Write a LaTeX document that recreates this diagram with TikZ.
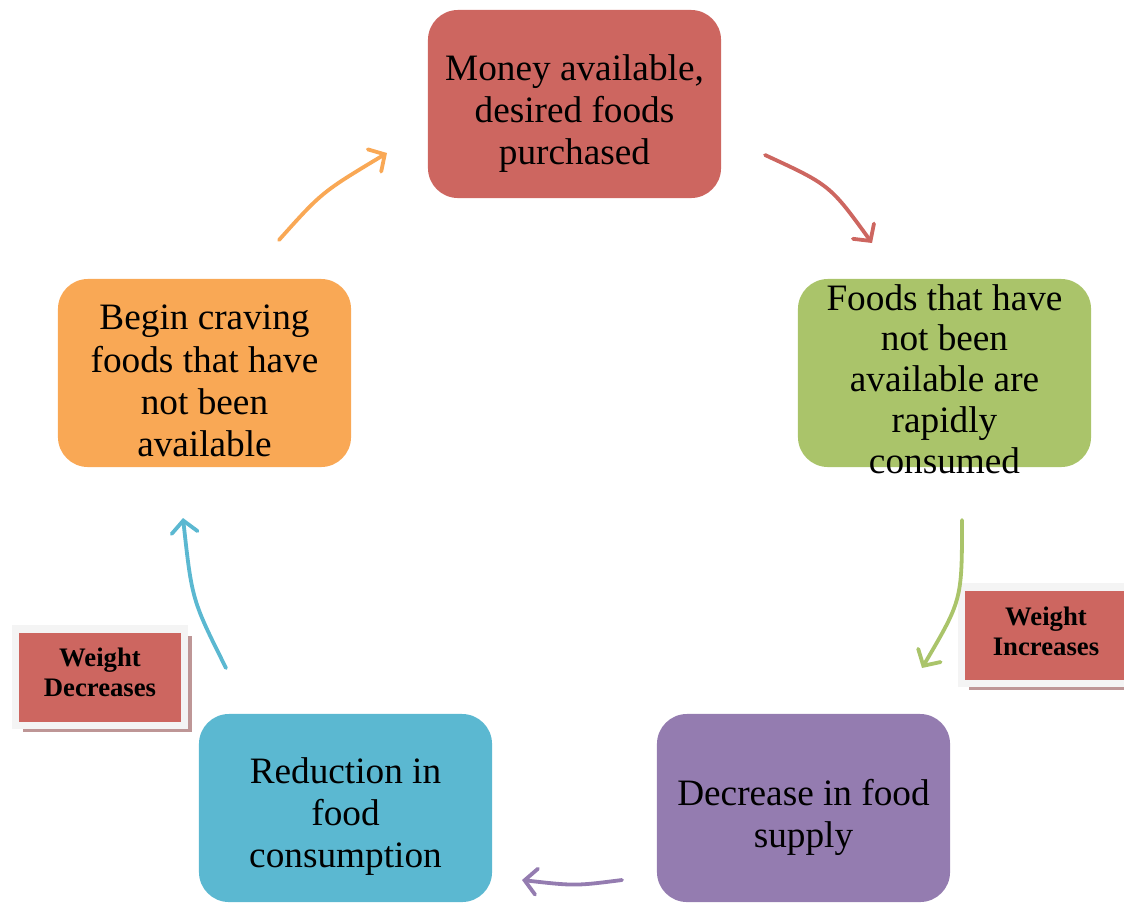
\documentclass[tikz,border=0pt]{standalone}
\usepackage{fontspec}
\setmainfont{Liberation Serif}
\usetikzlibrary{arrows.meta,shadows}
\definecolor{moneyred}{RGB}{205,102,96}
\definecolor{foodgreen}{RGB}{170,196,106}
\definecolor{supplyviolet}{RGB}{148,124,176}
\definecolor{reductblue}{RGB}{91,184,209}
\definecolor{craveorange}{RGB}{249,168,85}
\definecolor{framegray}{RGB}{244,244,244}
\definecolor{shadowred}{RGB}{190,150,150}
\begin{document}
\begin{tikzpicture}[x=0.025cm,y=-0.025cm,
    stage/.style={rounded corners=0.75cm, minimum width=7.325cm, minimum height=4.7cm},
    words/.style={align=center, font=\fontsize{26.5}{30}\selectfont},
    tag/.style={fill=moneyred, draw=framegray, line width=0.175cm,
        minimum width=4.225cm, minimum height=2.4cm,
        drop shadow={shadow xshift=0.18cm, shadow yshift=-0.18cm, fill=shadowred, opacity=1}},
    tagwords/.style={align=center, font=\bfseries\fontsize{19}{21.3}\selectfont},
    flow/.style={line width=0.095cm, line cap=round,
        -{Straight Barb[length=0.3cm,width=0.65cm,line cap=round]}}]
    \useasboundingbox (0,0) rectangle (1124,903);
    \clip (0,0) rectangle (1124,903);
    % the five stages of the cycle
    \node[stage, fill=moneyred] (money) at (574.5,104) {};
    \node[stage, fill=foodgreen] (foods) at (944.5,373) {};
    \node[stage, fill=supplyviolet] (supply) at (803.5,808) {};
    \node[stage, fill=reductblue] (reduct) at (345.5,808) {};
    \node[stage, fill=craveorange] (crave) at (204.5,373) {};
    \node[words] (moneytext) at ([yshift=-0.24cm]money.center) {Money available,\\desired foods\\purchased};
    \node[words, font=\fontsize{26.5}{29}\selectfont] (foodstext) at ([yshift=-0.15cm]foods.center)
        {Foods that have\\not been\\available are\\rapidly\\consumed};
    \node[words] (supplytext) at ([yshift=-0.24cm]supply.center) {Decrease in food\\supply};
    \node[words] (reducttext) at ([yshift=-0.22cm]reduct.center) {Reduction in\\food\\consumption};
    \node[words] (cravetext) at ([yshift=-0.2cm]crave.center) {Begin craving\\foods that have\\not been\\available};
    % weight labels
    \node[tag] (incr) at (1046,635) {};
    \node[tag] (decr) at (100,677) {};
    \node[tagwords] (incrtext) at ([yshift=0.08cm]incr.center) {Weight\\Increases};
    \node[tagwords] (decrtext) at ([yshift=0.12cm]decr.center) {Weight\\Decreases};
    % arrow ends
    \coordinate (m1) at (765,155); \coordinate (m2) at (872,243);
    \coordinate (f1) at (962,520); \coordinate (f2) at (922,668);
    \coordinate (s1) at (622,880); \coordinate (s2) at (522,880);
    \coordinate (r1) at (226,668); \coordinate (r2) at (183,518);
    \coordinate (c1) at (279,240); \coordinate (c2) at (387,153);
    \draw[flow, moneyred] (m1) .. controls (830,185) .. (m2);
    \draw[flow, foodgreen] (f1) .. controls (962,600) .. (f2);
    \draw[flow, supplyviolet] (s1) .. controls (575,886) .. (s2);
    \draw[flow, reductblue] (r1) .. controls (192,600) .. (r2);
    \draw[flow, craveorange] (c1) .. controls (322,192) .. (c2);
\end{tikzpicture}
\end{document}
